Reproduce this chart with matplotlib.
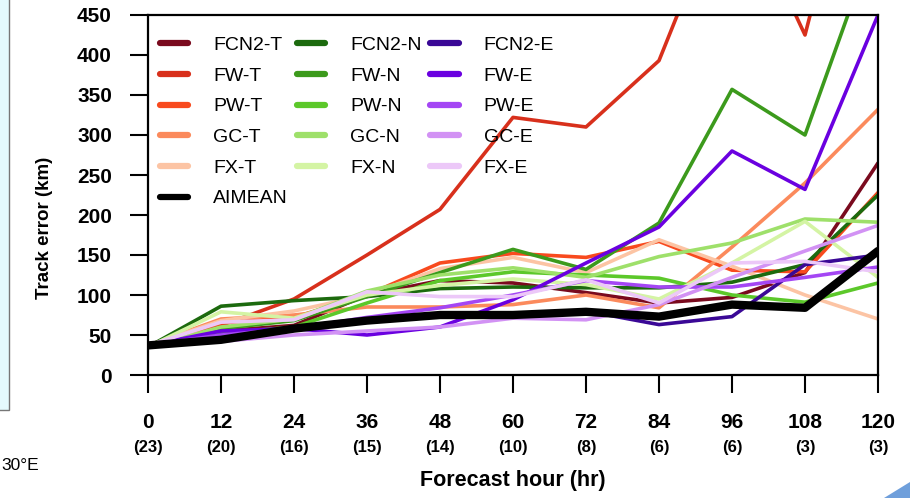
import matplotlib
matplotlib.use("Agg")
import matplotlib.pyplot as plt
from matplotlib.patches import Rectangle, Polygon

plt.rcParams['font.family'] = ['Liberation Sans', 'DejaVu Sans']

# ------- DATA -------
hours = [0, 12, 24, 36, 48, 60, 72, 84, 96, 108, 120]
counts = [23, 20, 16, 15, 14, 10, 8, 6, 6, 3, 3]

fcn2_t = [37, 55, 62, 100, 118, 115, 103, 90, 97, 128, 265]
fw_t = [37, 62, 95, 150, 207, 322, 310, 393, 620, 425, 780]
pw_t = [37, 65, 72, 100, 140, 152, 147, 167, 131, 129, 228]
gc_t = [37, 70, 75, 85, 85, 88, 100, 84, 160, 240, 332]
fx_t = [37, 68, 80, 100, 133, 147, 128, 169, 136, 100, 70]
fcn2_n = [35, 86, 93, 98, 108, 110, 109, 109, 116, 138, 225]
fw_n = [35, 58, 68, 98, 128, 157, 132, 190, 357, 300, 555]
pw_n = [35, 52, 60, 90, 118, 129, 125, 121, 100, 91, 115]
gc_n = [35, 60, 70, 105, 125, 134, 122, 148, 165, 195, 191]
fx_n = [35, 79, 71, 100, 112, 120, 113, 95, 140, 192, 122]
fcn2_e = [37, 50, 60, 70, 75, 77, 80, 63, 73, 138, 150]
fw_e = [37, 55, 58, 50, 60, 94, 140, 185, 280, 232, 450]
pw_e = [37, 50, 58, 72, 84, 100, 118, 110, 110, 122, 135]
gc_e = [37, 42, 50, 55, 60, 71, 69, 88, 122, 155, 187]
fx_e = [37, 66, 69, 104, 98, 98, 119, 90, 140, 142, 129]
aimean = [37, 44, 58, 68, 75, 75, 79, 73, 88, 84, 155]

series = [
    ("FCN2-T", fcn2_t, "#7a0a1e"),
    ("FW-T", fw_t, "#d8301c"),
    ("PW-T", pw_t, "#f84a1e"),
    ("GC-T", gc_t, "#fb8a5c"),
    ("FX-T", fx_t, "#fcc4a4"),
    ("FCN2-N", fcn2_n, "#1c6a0e"),
    ("FW-N", fw_n, "#3c9a1c"),
    ("PW-N", pw_n, "#5cc82a"),
    ("GC-N", gc_n, "#9ee06a"),
    ("FX-N", fx_n, "#d4f4a4"),
    ("FCN2-E", fcn2_e, "#3a0896"),
    ("FW-E", fw_e, "#6a00e0"),
    ("PW-E", pw_e, "#a446f4"),
    ("GC-E", gc_e, "#d292f4"),
    ("FX-E", fx_e, "#ecc8f8"),
]

# ------- FIGURE -------
fig = plt.figure(figsize=(9.1, 4.98), dpi=100)
ax = fig.add_axes([148/910, 1-375/498, 730/910, 360/498])

lines = {}
for name, vals, col in series:
    ln, = ax.plot(hours, vals, color=col, lw=2.6, label=name, solid_capstyle="round")
    lines[name] = ln
ln_mean, = ax.plot(hours, aimean, color="black", lw=6, label="AIMEAN",
                   solid_capstyle="round", zorder=5)

ax.set_xlim(0, 120)
ax.set_ylim(0, 450)
ax.set_xticks(hours)
ax.set_xticklabels([str(h) for h in hours], fontsize=15, fontweight="bold")
ax.set_yticks(range(0, 451, 50))
ax.set_yticklabels([str(v) for v in range(0, 451, 50)], fontsize=15, fontweight="bold")
ax.tick_params(axis="x", direction="out", length=13, width=1.5, pad=14)
ax.tick_params(axis="y", direction="out", length=13, width=1.5, pad=13)
for s in ax.spines.values():
    s.set_linewidth(1.6)

# counts under the hour labels
for h, n in zip(hours, counts):
    ax.text(h, -0.2, "(%d)" % n, transform=ax.get_xaxis_transform(),
            ha="center", va="center", fontsize=12, fontweight="bold")

ax.set_xlabel("Forecast hour (hr)", fontsize=15.5, fontweight="bold")
ax.xaxis.set_label_coords(0.5, -0.265)
ax.set_ylabel("Track error (km)", fontsize=13.5, fontweight="bold")
ax.yaxis.set_label_coords(-0.13, 0.41)

order = ["FCN2-T", "FW-T", "PW-T", "GC-T", "FX-T"]
handles = [lines[n] for n in order] + [ln_mean]
handles += [lines[n] for n in ["FCN2-N", "FW-N", "PW-N", "GC-N", "FX-N"]]
handles += [lines[n] for n in ["FCN2-E", "FW-E", "PW-E", "GC-E", "FX-E"]]
leg = ax.legend(handles=handles, ncol=3, loc="upper left", bbox_to_anchor=(0.016, 0.94),
                frameon=False, fontsize=14, handlelength=1.45, handletextpad=1.3,
                columnspacing=0.45, labelspacing=0.67, borderpad=0, borderaxespad=0)
for h in leg.legend_handles:
    h.set_linewidth(4.5)

# ------- screenshot edges -------
fig.patches.append(Rectangle((-0.01, 88/498), 9.5/910 + 0.01, 1.0, transform=fig.transFigure,
                             facecolor="#e4fafd", edgecolor="#777777", lw=1.0))
fig.text(0.002, 1-465/498, "30°E", fontsize=12.5, ha="left", va="center")
fig.patches.append(Polygon([(884/910, 0.0), (1.0, 0.0), (1.0, 1-482/498)], closed=True,
                           transform=fig.transFigure, facecolor="#3f7fd0", edgecolor="none",
                           alpha=0.75))

fig.savefig("out.png", dpi=100)
